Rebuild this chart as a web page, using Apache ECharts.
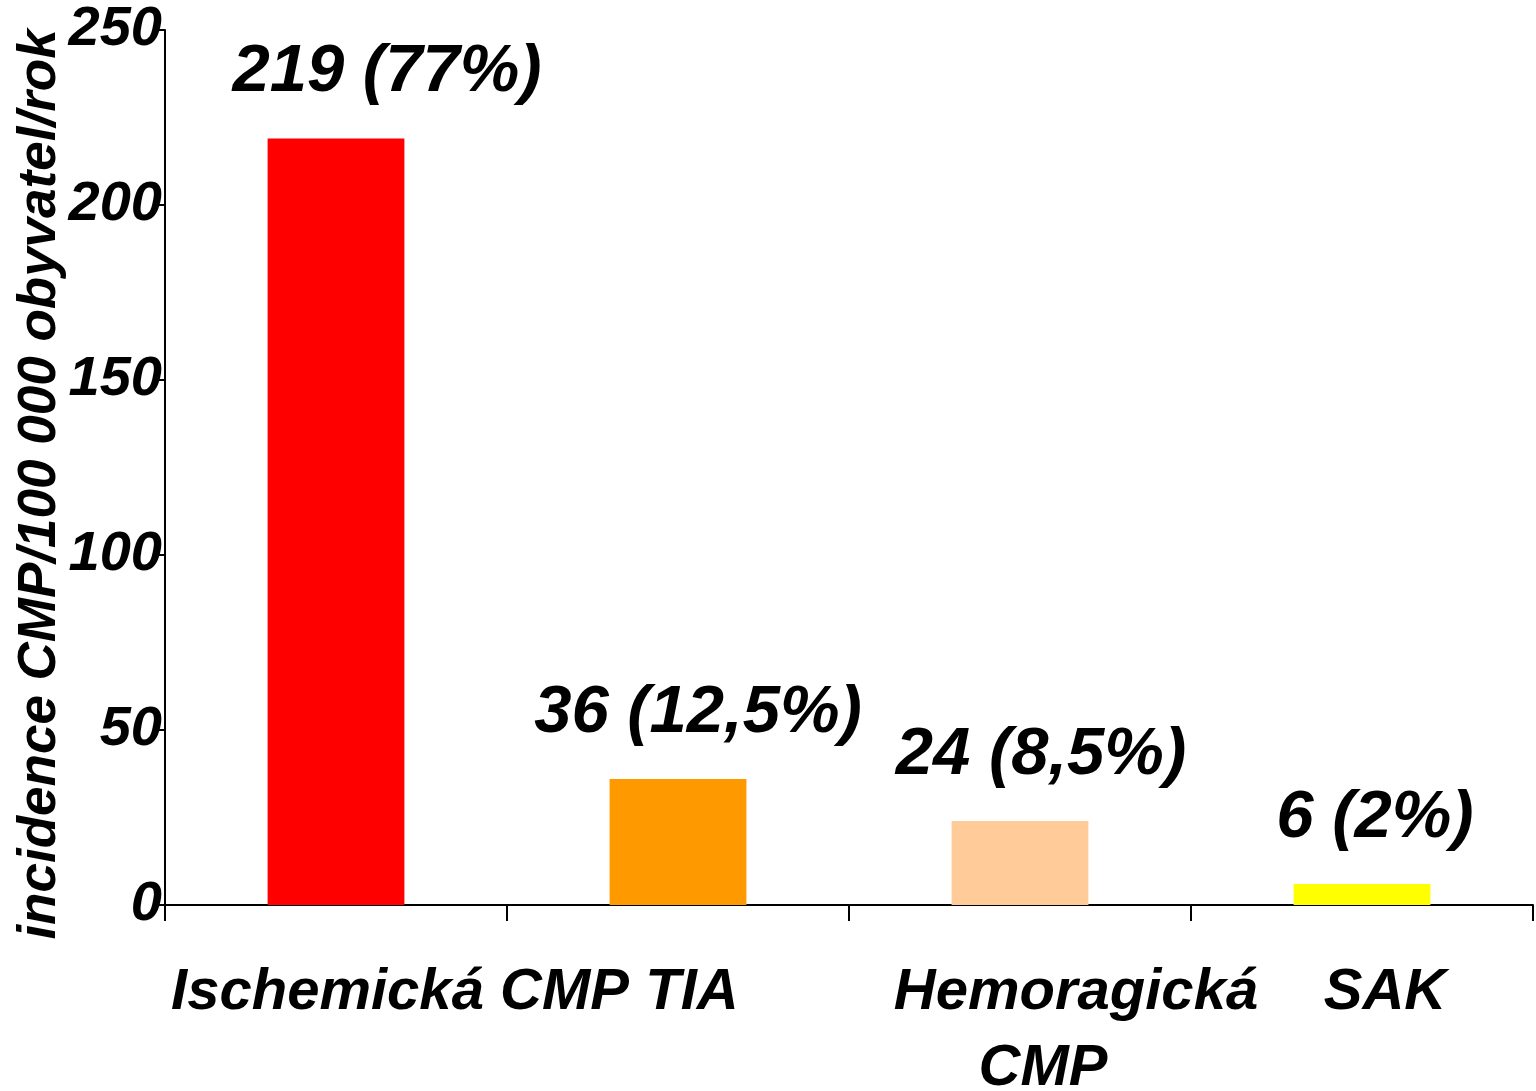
<!DOCTYPE html>
<html>
<head>
<meta charset="utf-8">
<script src="https://cdn.jsdelivr.net/npm/echarts@6/dist/echarts.min.js"></script>
<style>html,body{margin:0;padding:0;background:#fff}#c{width:1536px;height:1091px}</style>
</head>
<body>
<div id="c"></div>
<script>
var categories = ['Ischemická CMP', 'TIA', 'Hemoragická\nCMP', 'SAK'];
var values = [219, 36, 24, 6];
var valueLabels = ['219 (77%)', '36 (12,5%)', '24 (8,5%)', '6 (2%)'];
var barColors = ['#FF0000', '#FF9900', '#FFCC99', '#FFFF00'];
var yTicks = [0, 50, 100, 150, 200, 250];
var yTitle = 'incidence CMP/100 000 obyvatel/rok';

// style-only: horizontal nudges
var valueLabelShift = [51, 20, 21, 13];
var catLineShift = [[64], [14], [56], [23]];
catLineShift[2].push(23);

var FONT = '"Liberation Sans", Arial, sans-serif';
var rich = {};
var catFormatted = {};
categories.forEach(function (c, i) {
  var lines = c.split('\n');
  catFormatted[c] = lines.map(function (ln, j) {
    var key = 'c' + i + 'l' + j;
    rich[key] = {
      fontFamily: FONT, fontSize: 58, fontWeight: 'bold', fontStyle: 'italic',
      color: '#000', lineHeight: 76,
      padding: [0, 0, 0, 2 * catLineShift[i][j]]
    };
    return '{' + key + '|' + ln + '}';
  }).join('\n');
});

var chart = echarts.init(document.getElementById('c'), null, {renderer: 'canvas'});
chart.setOption({
  animation: false,
  backgroundColor: '#fff',
  grid: {left: 165, right: 3, top: 30, bottom: 186, containLabel: false, outerBoundsMode: 'none'},
  xAxis: {
    type: 'category',
    data: categories,
    boundaryGap: true,
    axisLine: {show: true, lineStyle: {color: '#000', width: 2}},
    axisTick: {show: true, length: 16, alignWithLabel: false, lineStyle: {color: '#000', width: 2}},
    axisLabel: {
      interval: 0, margin: 50,
      formatter: function (v) { return catFormatted[v]; },
      rich: rich
    },
    splitLine: {show: false}
  },
  yAxis: {
    type: 'value',
    min: yTicks[0], max: yTicks[yTicks.length - 1], interval: 50,
    name: yTitle,
    nameLocation: 'middle',
    nameGap: 98,
    nameRotate: 90,
    nameMoveOverlap: false,
    nameTextStyle: {
      fontFamily: FONT, fontSize: 53, fontWeight: 'bold', fontStyle: 'italic', color: '#000',
      padding: [0, 34, 0, 0]
    },
    axisLine: {show: true, lineStyle: {color: '#000', width: 2}},
    axisTick: {show: true, length: 10, inside: false, lineStyle: {color: '#000', width: 2}},
    axisLabel: {
      margin: 3,
      fontFamily: FONT, fontSize: 56, fontWeight: 'bold', fontStyle: 'italic', color: '#000',
      padding: [24, 0, 0, 0]
    },
    splitLine: {show: false}
  },
  series: [{
    type: 'bar',
    barWidth: '40%',
    data: values.map(function (v, i) {
      return {
        value: v,
        itemStyle: {color: barColors[i]},
        label: {offset: [valueLabelShift[i], 0]}
      };
    }),
    label: {
      show: true,
      position: 'top',
      distance: 32,
      fontFamily: FONT, fontSize: 67, fontWeight: 'bold', fontStyle: 'italic', color: '#000',
      lineHeight: 67,
      formatter: function (p) { return valueLabels[p.dataIndex]; }
    }
  }]
});
</script>
</body>
</html>
